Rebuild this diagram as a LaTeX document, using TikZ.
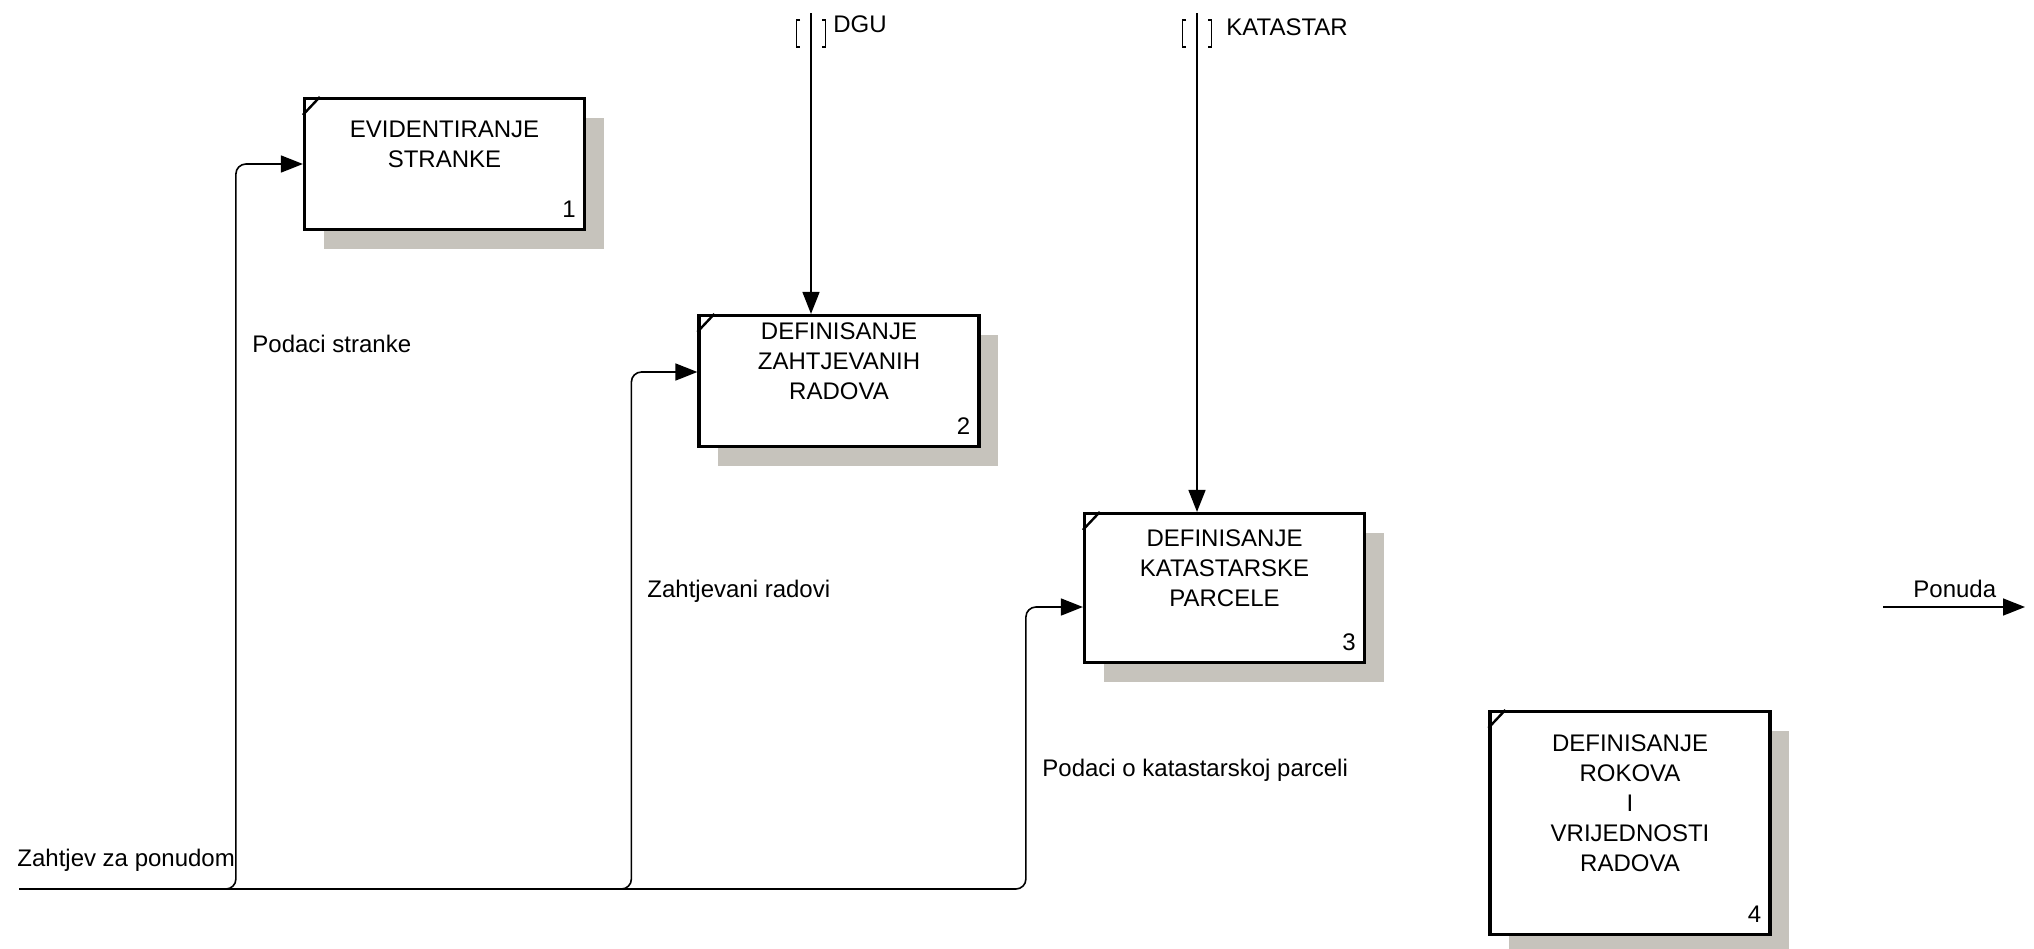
\documentclass[tikz,border=0pt]{standalone}
\usepackage{fontspec}
\setmainfont{Liberation Sans}
\usetikzlibrary{arrows.meta,shadows}
\definecolor{shadowgray}{RGB}{198,195,188}
\tikzset{
  fn/.style={draw, line width=1.6pt, fill=white, minimum width=140pt, inner sep=0pt,
    drop shadow={shadow xshift=9.5pt, shadow yshift=-9.5pt, fill=shadowgray, opacity=1}},
  fntext/.style={align=center, inner sep=0pt},
  num/.style={anchor=base east, inner sep=0pt},
  lbl/.style={anchor=base west, inner sep=0pt},
  flow/.style={line width=0.8pt, -{Triangle[length=11pt,width=8.5pt]}},
  corner/.style={line width=1.2pt},
  tunnel/.style={line width=0.7pt}
}
\begin{document}
\begin{tikzpicture}[x=0.5pt, y=-0.5pt,
    every node/.style={font=\fontsize{12pt}{15pt}\selectfont}]
  \useasboundingbox (0,0) rectangle (2034,948);

  % functions
  \node[fn, minimum height=65.5pt] (b1) at (444.5,164) {};
  \node[fn, minimum height=65.5pt] (b2) at (839,381) {};
  \node[fn, minimum height=74.5pt] (b3) at (1224.5,588) {};
  \node[fn, minimum height=111.5pt] (b4) at (1630,823) {};

  \node[fntext] (t1) at ([yshift=10pt]b1.center) {EVIDENTIRANJE\\STRANKE};
  \node[fntext] (t2) at ([yshift=10pt]b2.center) {DEFINISANJE\\ZAHTJEVANIH\\RADOVA};
  \node[fntext] (t3) at ([yshift=10pt]b3.center) {DEFINISANJE\\KATASTARSKE\\PARCELE};
  \node[fntext] (t4) at ([yshift=10pt]b4.center) {DEFINISANJE\\ROKOVA\\I\\VRIJEDNOSTI\\RADOVA};

  \foreach \n in {1,...,4} {
    \draw[corner] ([yshift=-9pt]b\n.north west) -- ([xshift=8.5pt]b\n.north west);
    \node[num] (n\n) at ([xshift=-5pt,yshift=7pt]b\n.south east) {\n};
  }

  % boundary points
  \coordinate (zin) at (19,889);
  \coordinate (dgu) at (811,13);
  \coordinate (kat) at (1197,13);
  \coordinate (pon1) at (1883,607);
  \coordinate (pon2) at (2025,607);

  % inputs
  \draw[flow, rounded corners=5pt] (zin) -| ([xshift=-33.5pt]b1.west) -- (b1.west);
  \draw[flow, rounded corners=5pt] (zin) -| ([xshift=-33pt,yshift=4.5pt]b2.west)
    -- ([yshift=4.5pt]b2.west);
  \draw[flow, rounded corners=5pt] (zin) -| ([xshift=-28.5pt,yshift=-9.5pt]b3.west)
    -- ([yshift=-9.5pt]b3.west);

  % controls
  \draw[flow] (dgu) -- (dgu |- b2.north);
  \draw[flow] (kat) -- (kat |- b3.north);
  \foreach \c in {dgu,kat} {
    \draw[tunnel] ([xshift=-5.5pt,yshift=-3.5pt]\c) -- ([xshift=-7.25pt,yshift=-3.5pt]\c)
      -- ([xshift=-7.25pt,yshift=-17pt]\c) -- ([xshift=-5.5pt,yshift=-17pt]\c);
    \draw[tunnel] ([xshift=5.5pt,yshift=-3.5pt]\c) -- ([xshift=7.25pt,yshift=-3.5pt]\c)
      -- ([xshift=7.25pt,yshift=-17pt]\c) -- ([xshift=5.5pt,yshift=-17pt]\c);
  }

  % output
  \draw[flow] (pon1) -- (pon2);

  % labels
  \node[lbl] (ldgu) at (833,32) {DGU};
  \node[lbl] (lkat) at (1226,35) {KATASTAR};
  \node[lbl] (lpod) at (252,352) {Podaci stranke};
  \node[lbl] (lzah) at (647,597) {Zahtjevani radovi};
  \node[lbl] (lkp) at (1042,776) {Podaci o katastarskoj parceli};
  \node[lbl] (lzp) at (17,866) {Zahtjev za ponudom};
  \node[lbl] (lpon) at (1913,597) {Ponuda};
\end{tikzpicture}
\end{document}
